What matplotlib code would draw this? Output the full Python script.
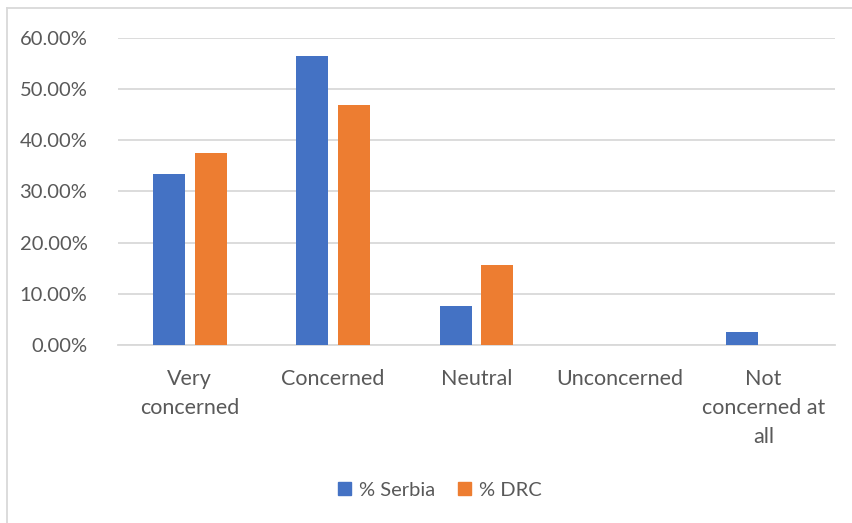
import matplotlib
matplotlib.use("Agg")
import matplotlib.pyplot as plt
import numpy as np
from matplotlib.patches import Patch
from matplotlib.ticker import FuncFormatter

categories = ["Very\nconcerned", "Concerned", "Neutral", "Unconcerned", "Not\nconcerned at\nall"]
serbia = [0.3333, 0.5641, 0.0769, 0.0, 0.0256]
drc = [0.375, 0.46875, 0.15625, 0.0, 0.0]
series_names = ["% Serbia", "% DRC"]
yticks = [0.0, 0.1, 0.2, 0.3, 0.4, 0.5, 0.6]

plt.rcParams['font.family'] = ['Lato', 'DejaVu Sans']
txt = '#595959'
W, H = 852, 523
fig = plt.figure(figsize=(W/100, H/100), dpi=100)
ax = fig.add_axes([118/W, 1-345/H, (835-118)/W, (345-37.7)/H])

x = np.arange(len(categories))
bw = 0.223
off = 0.146
ax.bar(x-off, serbia, bw, color='#4472c4', zorder=3)
ax.bar(x+off, drc, bw, color='#ed7d31', zorder=3)

ax.set_xlim(-0.5, len(categories)-0.5)
ax.set_ylim(0, 0.6)
ax.set_yticks(yticks)
ax.yaxis.set_major_formatter(FuncFormatter(lambda v, p: f"{v*100:.2f}%"))
ax.grid(axis='y', color='#d9d9d9', linewidth=1.3, zorder=0)
ax.set_axisbelow(True)
for s in ['top', 'right', 'left']:
    ax.spines[s].set_visible(False)
ax.spines['bottom'].set_color('#d9d9d9')
ax.spines['bottom'].set_linewidth(1.3)
ax.tick_params(axis='y', length=0, labelsize=14.5, colors=txt, pad=22)
ax.tick_params(axis='x', length=0, labelsize=15.5, colors=txt, pad=17)
ax.set_xticks(x)
ax.set_xticklabels(categories, linespacing=1.57, va='top')

handles = [Patch(color='#4472c4'), Patch(color='#ed7d31')]
leg = fig.legend(handles, series_names, loc='center', bbox_to_anchor=(440/W, 1-490/H),
                 ncol=2, frameon=False, fontsize=14.5, handlelength=0.65, handleheight=0.65,
                 handletextpad=0.4, columnspacing=1.1)
for t in leg.get_texts():
    t.set_color(txt)

# chart frame (left and top edges visible)
fig.add_artist(plt.Line2D([7/W, 7/W], [0, 1-8/H], color='#d9d9d9', lw=1.3, transform=fig.transFigure))
fig.add_artist(plt.Line2D([7/W, 1], [1-8/H, 1-8/H], color='#d9d9d9', lw=1.3, transform=fig.transFigure))

fig.savefig('out.png', dpi=100)
